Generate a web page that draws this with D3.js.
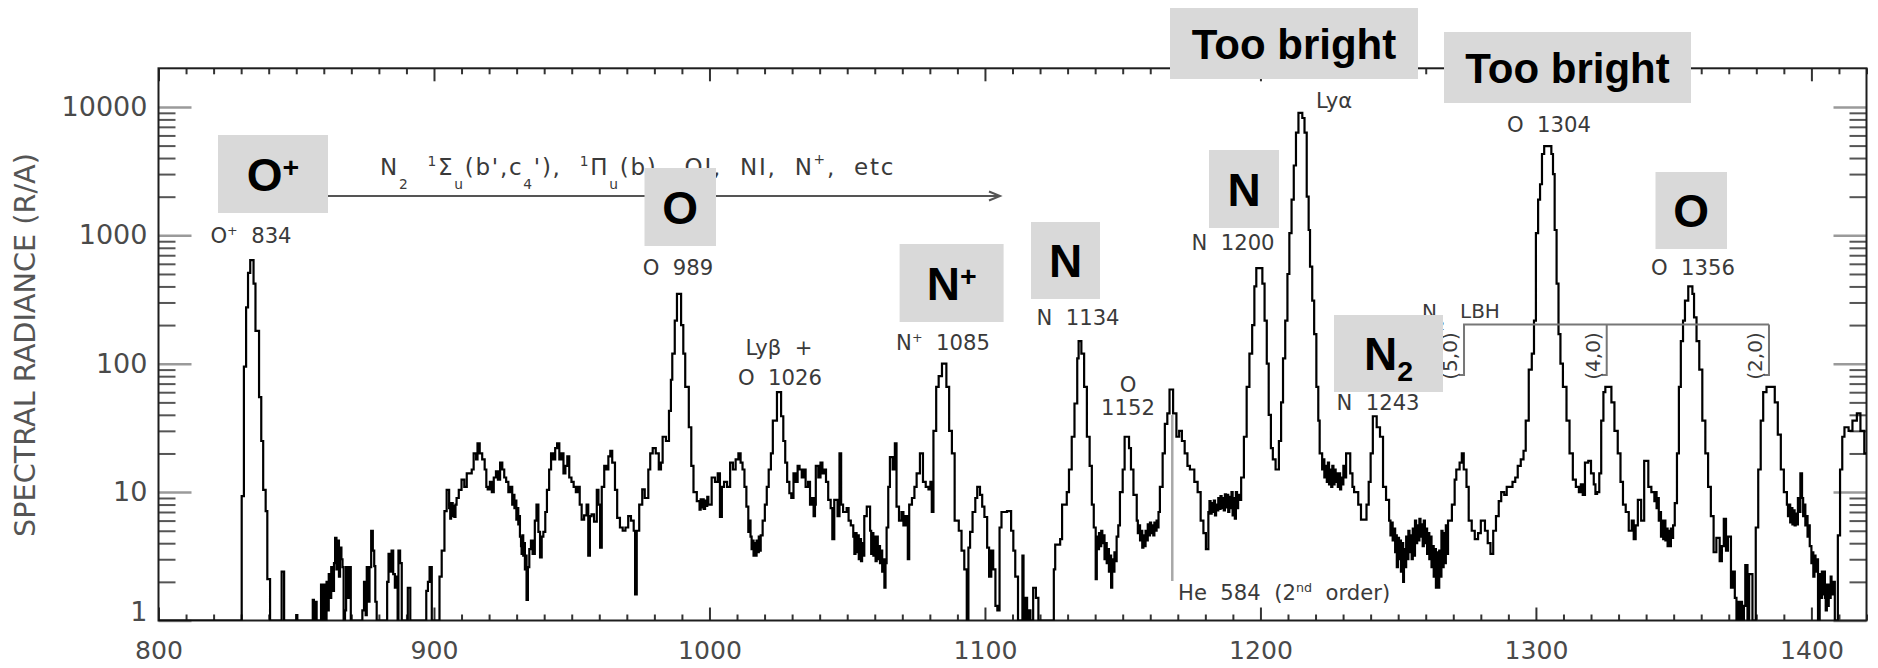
<!DOCTYPE html>
<html>
<head>
<script src="https://d3js.org/d3.v7.min.js"></script>
<style>
body { margin: 0; background: #fff; }
svg text { font-family: "DejaVu Sans", sans-serif; }
.tick text { fill: #4a4a4a; font-size: 26px; }
.xmaj line, .xmin line { stroke: #333; stroke-width: 2; }
.ymaj line { stroke: #9a9a9a; stroke-width: 2.5; }
.ymin line { stroke: #555; stroke-width: 2; }
.note { fill: #3a3a3a; white-space: pre; }
.big { font-family: "Liberation Sans", Arial, sans-serif; font-weight: bold; fill: #000; }
</style>
</head>
<body>
<script>
// axis ranges and tick labels
const xDomain = [800, 1420];
const yDomain = [1, 20000];
const xMajor = [800, 900, 1000, 1100, 1200, 1300, 1400];
const yMajor = [1, 10, 100, 1000, 10000];
const yMajorLabels = ["1", "10", "100", "1000", "10000"];

// spectrum: [wavelength where the step starts (A), radiance (R/A)]
// values under 1 sit on the bottom axis
const spectrum = [
  [800, 0.5],
  [830.2, 9.3], [831.0, 95], [831.8, 275], [832.5, 510], [833.3, 640], [834.5, 420], [835.2, 180], [836.5, 55], [837.3, 25], [838.0, 10.4], [838.9, 7.1], [839.5, 2.1], [840.5, 0.5],
  [844.7, 2.4], [845.6, 0.5], [850.0, 1.1], [850.4, 0.5],
  [856.0, 1.45], [856.4, 0.5], [857.0, 1.4], [857.4, 0.5], [859.0, 1.9], [859.5, 0.5], [860.0, 1.9], [860.5, 0.5],
  [861.0, 2.0], [861.4, 1.2], [861.8, 2.3], [862.3, 1.5], [862.7, 2.6], [863.2, 1.7], [863.7, 2.8], [864.1, 4.4], [864.6, 2.5], [865.0, 4.2], [865.5, 2.2], [865.9, 3.7], [866.4, 3.0], [866.8, 2.6], [867.2, 0.5], [867.7, 1.2], [868.1, 2.6], [868.7, 1.5], [869.2, 2.6], [869.8, 0.5],
  [874.0, 1.2], [874.6, 2.0], [875.2, 1.1], [875.6, 2.6], [876.2, 1.4], [876.6, 2.6], [877.2, 5.0], [877.8, 3.5], [878.3, 2.65], [878.7, 1.4], [879.2, 0.5],
  [883.0, 2.0], [883.5, 3.3], [884.1, 2.4], [884.6, 3.5], [885.2, 2.3], [885.8, 1.8], [886.3, 2.2], [886.8, 0.5], [887.1, 3.5], [887.7, 2.8], [888.3, 0.5],
  [890.5, 1.8], [891.4, 0.5], [897.2, 1.7], [897.8, 2.0], [898.4, 2.6], [899.2, 0.5],
  [902.0, 2.2], [902.8, 3.5], [903.8, 7.1], [904.6, 10.4], [905.5, 7.5], [905.9, 6.2], [906.2, 8.2], [906.8, 6.5], [907.1, 7.8], [907.4, 6.4], [907.8, 8], [908.2, 9], [909.0, 10.4], [910.0, 12.5], [911.0, 11], [911.9, 14], [913.7, 15], [914.4, 20], [915.3, 18], [915.8, 24], [916.6, 20], [917.5, 18], [918.4, 15], [919.0, 11], [919.5, 10.5], [920.3, 12], [921.0, 10], [921.7, 13], [922.5, 14.5], [923.2, 12.5], [924.0, 17], [924.8, 15], [925.5, 13], [926.2, 12], [927.0, 10], [927.7, 11], [928.4, 8], [928.8, 9.5], [929.2, 7.5], [929.6, 8.6], [929.9, 6.1], [930.3, 7.5], [930.6, 5.6], [931.0, 6.5], [931.2, 4.5], [931.6, 3.8], [931.8, 3.3], [932.1, 4.6], [932.4, 3.2], [932.7, 4.0], [933.0, 2.5], [933.3, 3.2], [933.6, 1.45], [934.1, 2.6], [934.6, 3.6], [935.2, 4.2], [935.8, 3.3], [936.6, 6], [937.2, 8], [937.9, 4.9], [938.5, 3.1], [939.1, 4.5], [939.7, 4.9], [940.4, 7],
  [941.0, 10.4], [941.8, 15], [942.5, 20], [943.3, 18], [944.0, 22], [944.7, 24], [945.5, 18], [946.3, 20], [947.0, 14], [947.7, 16], [948.4, 19], [949.1, 13], [949.9, 12], [950.7, 11], [951.5, 10], [952.2, 11], [952.9, 8], [953.6, 6.1], [954.5, 6.6], [955.4, 8], [956.0, 3.2], [956.6, 6.5], [957.2, 6.7], [958.1, 5.9], [959.1, 10.4], [959.7, 8], [960.3, 3.7], [960.9, 11], [961.8, 16], [962.6, 15], [963.3, 19], [964.0, 21], [964.7, 17], [965.7, 10.4], [966.5, 6.3], [967.5, 5.3], [968.5, 5.0], [969.5, 5.3], [970.5, 6.5], [971.5, 6], [972.5, 5], [973.0, 1.6], [973.6, 5], [974.5, 8], [975.6, 10.5], [976.5, 9], [977.8, 15], [978.5, 20], [979.4, 22], [980.5, 20], [981.6, 15], [982.4, 17], [983.0, 27], [984.2, 25], [985.3, 43], [986.0, 75], [986.5, 120], [987.4, 217], [988.2, 350], [989.7, 200], [990.5, 120], [991.2, 66], [992.5, 32], [993.4, 16], [994.2, 10], [995.4, 8.5], [996.4, 7.3], [996.8, 8.8], [997.2, 7.6], [997.6, 8.8], [997.9, 7.4], [998.4, 8.6], [998.8, 7.8], [999.2, 9.2], [999.6, 8],
  [1000.8, 13], [1002.0, 12], [1003.0, 14], [1003.8, 6.4], [1004.5, 11], [1005.3, 12], [1006.4, 11], [1007.5, 17], [1008.5, 15], [1009.5, 18], [1010.5, 20], [1011.3, 17], [1012.0, 15], [1012.7, 11], [1013.4, 7.7], [1014.1, 4.9], [1014.5, 6], [1014.9, 4.5], [1015.3, 3.6], [1015.6, 4.2], [1016.0, 3.2], [1016.4, 4.0], [1016.8, 3.2], [1017.1, 4.2], [1017.5, 3.4], [1017.9, 4.5], [1018.3, 3.5], [1018.6, 4.6], [1019.3, 6], [1020.1, 8], [1020.8, 11], [1021.5, 15], [1022.3, 20], [1023.0, 36], [1024.5, 60], [1026.0, 39], [1026.8, 25], [1027.5, 17], [1028.2, 12], [1029.0, 9.8], [1029.7, 9], [1030.5, 14], [1031.3, 12], [1032.0, 16], [1032.7, 15], [1033.5, 13], [1034.2, 15], [1034.9, 11], [1035.8, 12], [1036.5, 8], [1037.1, 9], [1037.8, 6.5], [1038.3, 8], [1038.6, 16], [1039.5, 13], [1040.3, 17], [1041.0, 14], [1041.6, 15], [1042.3, 12], [1043.1, 8.7], [1044.0, 7.5], [1044.6, 4.3], [1045.3, 8.7], [1046.5, 6.5], [1047.2, 20], [1047.8, 8], [1048.5, 7], [1049.8, 7.5],
  [1050.5, 6], [1051.3, 5.5], [1052.2, 4.5], [1052.6, 3.3], [1053.0, 4.8], [1053.4, 3.4], [1053.8, 4.6], [1054.2, 3], [1054.6, 4.3], [1055.0, 2.9], [1055.4, 4.0], [1055.8, 3.2], [1056.2, 6.5], [1057.1, 7.7], [1058.3, 5], [1058.7, 3.3], [1059.1, 4.8], [1059.5, 3.2], [1059.9, 4.5], [1060.3, 2.9], [1060.7, 4.5], [1061.1, 3.0], [1061.5, 3.8], [1061.9, 2.8], [1062.3, 3.5], [1062.7, 2.4], [1063.1, 3.0], [1063.5, 1.8], [1063.9, 2.8], [1064.3, 5.3], [1064.9, 11], [1065.5, 18.7], [1066.5, 15], [1067.3, 24], [1067.9, 7.7], [1068.8, 6], [1069.7, 7], [1070.4, 5.5], [1071.2, 6.5], [1072.0, 3], [1072.5, 8], [1073.5, 9], [1074.4, 11], [1075.2, 14], [1076.4, 20], [1077.5, 12], [1078.5, 11], [1079.5, 10.5], [1080.2, 12], [1080.7, 7], [1081.3, 30], [1082.3, 66], [1083.2, 80], [1084.4, 100], [1086.0, 66], [1087.0, 30], [1088.0, 20], [1089.0, 6], [1090.5, 5], [1091.5, 3.5], [1092.5, 2.5], [1093.4, 0.5], [1094.0, 3.7], [1094.6, 4.9], [1095.5, 7], [1096.5, 9], [1097.2, 11], [1098.2, 9.5], [1099.0, 7.7], [1099.8, 6.4],
  [1100.8, 3.7], [1101.5, 2.2], [1102.3, 3.5], [1103.0, 2.5], [1103.8, 1.3], [1104.5, 1.2], [1105.3, 5.3], [1106.0, 7], [1108.0, 7.1], [1109.5, 5], [1110.3, 3.5], [1111.0, 2.2], [1112.0, 0.5], [1113.6, 3.2], [1114.0, 0.5], [1114.8, 1.5], [1115.3, 0.5], [1116.0, 1.2], [1116.5, 0.5], [1117.5, 1.8], [1118.5, 1.5], [1119.4, 0.5],
  [1125.0, 2.5], [1125.5, 3.9], [1127.3, 4.3], [1128.0, 8], [1129.7, 10], [1130.5, 15], [1131.5, 27], [1132.5, 49], [1133.5, 110], [1134.0, 150], [1135.0, 120], [1136.0, 66], [1137.0, 27], [1138.0, 16], [1138.8, 8], [1139.5, 5.3], [1140.2, 2.1], [1140.6, 4.5], [1141.0, 3.6], [1141.4, 4.8], [1141.8, 3.8], [1142.2, 5], [1142.6, 4.0], [1143.0, 4.6], [1143.4, 3.0], [1143.8, 4.0], [1144.2, 2.8], [1144.6, 3.6], [1145.0, 2.4], [1145.4, 3.2], [1145.8, 1.8], [1146.2, 3], [1146.6, 2.4], [1147.0, 3.4], [1147.4, 2.9], [1147.8, 4.5], [1148.4, 5.5], [1149.0, 10],
  [1150.0, 15], [1150.7, 27], [1152.3, 22], [1153.0, 15], [1153.9, 9.5], [1155.1, 6], [1155.5, 4.8], [1155.9, 5.5], [1156.3, 4.2], [1156.7, 5.0], [1157.1, 3.7], [1157.5, 4.6], [1157.9, 3.8], [1158.3, 5], [1158.7, 4.2], [1159.1, 5.6], [1159.5, 4.6], [1159.9, 5.8], [1160.3, 4.8], [1160.7, 5.5], [1161.1, 4.6], [1161.5, 5.8], [1161.9, 5], [1162.3, 6], [1162.7, 5.3], [1163.0, 7], [1163.5, 11], [1164.5, 20], [1165.3, 34], [1166.2, 41], [1167.0, 63], [1168.3, 41], [1169.5, 27], [1170.5, 30], [1171.5, 25], [1172.5, 20], [1173.5, 16], [1174.4, 15], [1176.0, 12], [1177.2, 10], [1178.3, 6], [1179.3, 4.8], [1180.2, 3.6],
  [1181.1, 7], [1181.5, 8.5], [1181.9, 6.8], [1182.3, 8.2], [1182.7, 7], [1183.1, 8.6], [1183.5, 6.6], [1183.9, 8], [1184.3, 7.2], [1184.7, 9], [1185.1, 7.4], [1185.5, 9.3], [1185.9, 7.5], [1186.3, 9], [1186.7, 7.2], [1187.1, 9.6], [1187.5, 7.6], [1187.9, 9.5], [1188.3, 7], [1188.7, 9.2], [1189.1, 7.5], [1189.5, 10], [1189.9, 6.6], [1190.3, 9], [1190.7, 6.2], [1191.1, 10], [1191.5, 7.5], [1191.9, 9.5], [1192.3, 8.7],
  [1193.0, 13], [1194.0, 27], [1195.0, 66], [1196.0, 120], [1197.0, 200], [1197.8, 400], [1198.5, 556],
  [1200.7, 420], [1201.5, 217], [1202.3, 100], [1203.0, 40], [1203.8, 22], [1204.5, 18], [1205.5, 15], [1206.7, 25], [1207.5, 50], [1208.2, 110], [1209.0, 217], [1209.8, 500], [1210.5, 1040], [1211.3, 1900], [1212.1, 3500], [1212.9, 6300], [1213.8, 9000], [1215.2, 8200], [1216.0, 6300], [1216.8, 2000], [1217.5, 1100], [1218.0, 570], [1218.8, 310], [1219.5, 170], [1220.3, 66], [1221.0, 36],
  [1221.5, 20], [1222.4, 15], [1222.8, 18], [1223.2, 13], [1223.7, 16], [1224.1, 12], [1224.5, 17], [1224.9, 11.5], [1225.3, 15], [1225.7, 11], [1226.1, 16], [1226.5, 11.5], [1226.9, 15], [1227.3, 12], [1227.7, 14], [1228.1, 11], [1228.5, 14], [1228.9, 10.5], [1229.3, 13], [1229.7, 11.5], [1230.1, 16], [1230.5, 13], [1231.1, 20], [1232.6, 14], [1233.4, 11], [1234.0, 10], [1235.5, 8], [1236.5, 6.1], [1238.5, 8], [1239.3, 12], [1240.0, 20], [1240.8, 39], [1242.2, 32], [1243.4, 27], [1244.5, 11], [1245.6, 8.7],
  [1246.7, 6], [1247.2, 4.6], [1247.6, 5.8], [1248.0, 4.2], [1248.4, 5.2], [1248.9, 3.4], [1249.2, 4.6], [1249.5, 2.6], [1249.9, 4.4], [1250.3, 3], [1250.7, 4.2], [1251.0, 2.4], [1251.4, 4], [1251.8, 2.0], [1252.1, 3.6], [1252.5, 2.6], [1252.9, 4.5], [1253.3, 3.0], [1253.7, 5], [1254.1, 3.4], [1254.5, 4.6], [1254.9, 3.0], [1255.3, 5.2], [1255.7, 3.2], [1256.1, 6], [1256.5, 4.0], [1256.9, 5.5], [1257.3, 4.2], [1257.7, 6.2], [1258.1, 4.5], [1258.5, 5.6], [1258.9, 3.8], [1259.3, 6], [1259.7, 4.0], [1260.1, 5.2], [1260.5, 3.3], [1260.9, 4.8], [1261.3, 3.0], [1261.7, 4.5], [1262.1, 2.6], [1262.5, 3.8], [1262.9, 2.2], [1263.3, 3.6], [1263.7, 1.8], [1264.1, 3.4], [1264.5, 1.8], [1264.9, 3.5], [1265.3, 2.2], [1265.7, 5], [1266.1, 2.6], [1266.5, 4.8], [1266.9, 2.8], [1267.3, 5.5], [1267.7, 3.3], [1268.1, 6],
  [1269.5, 8], [1270.5, 12.5], [1271.1, 15], [1272.3, 17], [1273.1, 20], [1273.8, 15], [1274.8, 11], [1275.6, 6], [1276.7, 5], [1277.8, 4.3], [1279.0, 4.8], [1280.0, 6], [1281.5, 5], [1282.5, 4], [1283.5, 3.3], [1284.5, 5], [1285.5, 6.5], [1286.5, 8.5], [1287.4, 10], [1288.5, 9.5], [1289.4, 11], [1290.4, 11], [1291.5, 12], [1292.5, 13], [1293.4, 16], [1294.5, 18], [1295.5, 21], [1296.3, 36], [1297.4, 90], [1298.5, 120], [1299.3, 217],
  [1300.0, 1040], [1300.8, 1900], [1301.5, 2500], [1302.2, 4300], [1303.0, 4960], [1305.6, 4300], [1306.2, 3000], [1306.8, 1100], [1307.5, 420], [1308.2, 170], [1308.9, 100], [1309.8, 66], [1311.1, 36], [1312.2, 20], [1313.4, 12.5], [1314.5, 11], [1315.6, 10], [1316.3, 11.5], [1317.0, 9.5], [1317.8, 17], [1319.0, 17.5], [1320.0, 14], [1321.0, 11.5], [1321.6, 9.7], [1322.2, 10], [1323.0, 14], [1323.7, 36], [1324.5, 60], [1325.2, 66], [1327.4, 50], [1328.5, 30], [1329.7, 20], [1330.7, 12], [1331.6, 8], [1332.6, 7], [1333.7, 5], [1334.8, 6], [1335.5, 4.3], [1336.2, 5.5], [1337.0, 8.7], [1338.2, 6], [1339.3, 17.5], [1340.8, 11], [1341.9, 10],
  [1343.0, 8.5], [1343.4, 10], [1343.8, 7.5], [1344.2, 9], [1344.6, 6], [1345.0, 7], [1345.4, 4.5], [1345.8, 6], [1346.2, 4.3], [1346.6, 6], [1347.0, 4.2], [1347.4, 5.2], [1347.8, 3.8], [1348.2, 5], [1348.6, 3.8], [1349.0, 5.2], [1349.4, 4.4], [1349.8, 5.5],
  [1350.4, 8.2], [1351.2, 20], [1351.9, 66], [1352.6, 150], [1353.4, 217], [1354.1, 310], [1355.3, 400], [1356.8, 350], [1357.4, 230], [1358.3, 150], [1359.3, 90], [1360.4, 36], [1361.5, 20], [1362.5, 11], [1363.5, 6.5], [1364.5, 3.4], [1365.5, 4.4], [1366.7, 2.9], [1367.5, 3.8], [1368.2, 6.2], [1369.0, 3.5], [1369.7, 4.5], [1370.8, 1.8], [1371.5, 2.4], [1372.2, 1.5], [1372.8, 0.5], [1373.2, 1.4], [1373.7, 0.5], [1374.1, 1.4], [1374.8, 1.0], [1375.5, 1.3], [1376.0, 2.7], [1376.8, 0.5], [1377.4, 2.3], [1378.6, 0.5], [1379.8, 5.3], [1380.7, 15], [1381.6, 36], [1382.5, 60], [1383.7, 66], [1386.7, 50], [1387.8, 28], [1388.9, 15], [1390.0, 10],
  [1391.1, 8], [1391.5, 6.5], [1391.9, 8], [1392.3, 5.8], [1392.7, 7.5], [1393.1, 5.6], [1393.5, 7.2], [1393.9, 5.5], [1394.3, 6.8], [1394.7, 5.6], [1395.1, 9], [1395.6, 7], [1396.0, 14], [1396.6, 9], [1397.0, 6.5], [1397.4, 8], [1397.8, 5.5], [1398.2, 6.5], [1398.6, 4.5], [1399.0, 5.5], [1399.4, 3.8],
  [1400.0, 2.8], [1400.4, 3.4], [1400.7, 2.2], [1401.1, 3.2], [1401.5, 2.4], [1401.9, 3], [1402.4, 0.5], [1403.0, 2.3], [1403.4, 1.5], [1403.8, 2.4], [1404.2, 1.6], [1404.5, 2.4], [1404.9, 1.5], [1405.2, 1.2], [1405.6, 1.9], [1405.9, 1.3], [1406.3, 1.9], [1406.6, 1.5], [1407.0, 2.2], [1407.3, 1.6], [1407.7, 2], [1408.5, 0.5], [1409.6, 4.6], [1410.4, 15], [1411.2, 27], [1412.0, 32], [1413.5, 30], [1414.9, 36], [1416.5, 41], [1417.8, 30], [1419.2, 20], [1420, 20]
];

var width = 1878,
    height = 668;

var svg = d3.select("body").append("svg")
    .attr("width", width)
    .attr("height", height);

var x = d3.scaleLinear().domain(xDomain).range([158.5, 1866.5]);
var y = d3.scaleLog().domain(yDomain).range([620.5, 68.3]).clamp(true);

var x0 = x(xDomain[0]), x1 = x(xDomain[1]), yb = y(yDomain[0]), yt = y(yDomain[1]);

// scale a text's font so its drawn width matches the reference
function fitSize(sel, base, target) {
  sel.style("font-size", base + "px");
  var w = sel.node().getComputedTextLength();
  return base * target / w;
}

// minor ticks
var xMinor = d3.range(xDomain[0], xDomain[1] + 1, 10).filter(d => d % 100 !== 0);
var yMinor = [];
yMajor.forEach(d => { for (var k = 2; k <= 9; k++) if (k * d < yDomain[1]) yMinor.push(k * d); });

function noDomain(g) { g.select(".domain").remove(); }

// bottom
svg.append("g").attr("class", "xmin").attr("transform", "translate(0," + yb + ")")
    .call(d3.axisBottom(x).tickValues(xMinor).tickSize(-6).tickFormat("")).call(noDomain);
var xb = svg.append("g").attr("class", "xmaj").attr("transform", "translate(0," + yb + ")")
    .call(d3.axisBottom(x).tickValues(xMajor).tickSize(-13).tickPadding(21).tickFormat(d3.format("d"))).call(noDomain);
var xfs = fitSize(xb.selectAll(".tick text").filter(d => d === 1000), 26, 64);
xb.selectAll(".tick text").style("font-size", xfs + "px");
// top
svg.append("g").attr("class", "xmin").attr("transform", "translate(0," + yt + ")")
    .call(d3.axisTop(x).tickValues(xMinor).tickSize(-6).tickFormat("")).call(noDomain);
svg.append("g").attr("class", "xmaj").attr("transform", "translate(0," + yt + ")")
    .call(d3.axisTop(x).tickValues(xMajor).tickSize(-13).tickFormat("")).call(noDomain);
// left
svg.append("g").attr("class", "ymin").attr("transform", "translate(" + x0 + ",0)")
    .call(d3.axisLeft(y).tickValues(yMinor).tickSize(-17).tickFormat("")).call(noDomain);
var yl = svg.append("g").attr("class", "ymaj").attr("transform", "translate(" + x0 + ",0)")
    .call(d3.axisLeft(y).tickValues(yMajor).tickSize(-33).tickPadding(11).tickFormat((d, i) => yMajorLabels[i])).call(noDomain);
var yfs = fitSize(yl.selectAll(".tick text").filter(d => d === 10000), 26, 86);
yl.selectAll(".tick text").style("font-size", yfs + "px");
yl.selectAll(".tick text").filter(d => d === 1).attr("dy", "0em");
// right
svg.append("g").attr("class", "ymin").attr("transform", "translate(" + x1 + ",0)")
    .call(d3.axisRight(y).tickValues(yMinor).tickSize(-17).tickFormat("")).call(noDomain);
svg.append("g").attr("class", "ymaj").attr("transform", "translate(" + x1 + ",0)")
    .call(d3.axisRight(y).tickValues(yMajor).tickSize(-33).tickFormat("")).call(noDomain);

svg.append("rect")
    .attr("x", x0).attr("y", yt).attr("width", x1 - x0).attr("height", yb - yt)
    .attr("fill", "none").attr("stroke", "#1e1e1e").attr("stroke-width", 2);

var title = svg.append("text")
    .attr("transform", "translate(35,345) rotate(-90)")
    .attr("text-anchor", "middle")
    .style("fill", "#555")
    .text("SPECTRAL RADIANCE (R/A)");
title.style("font-size", fitSize(title, 28, 384) + "px");

// He 584 second order marker
svg.append("line")
    .attr("x1", x(1168)).attr("x2", x(1168)).attr("y1", 415).attr("y2", 581)
    .attr("stroke", "#a8a8a8").attr("stroke-width", 2.5);

// spectrum
svg.append("clipPath").attr("id", "plot").append("rect")
    .attr("x", x0).attr("y", yt).attr("width", x1 - x0).attr("height", yb - yt);

var line = d3.line()
    .x(d => x(d[0]))
    .y(d => y(d[1]))
    .curve(d3.curveStepAfter);

svg.append("path")
    .datum(spectrum)
    .attr("clip-path", "url(#plot)")
    .attr("fill", "none")
    .attr("stroke", "#000")
    .attr("stroke-width", 2.2)
    .attr("d", line);

// note size, matched on the "O 1304" label
var probe = svg.append("text").attr("class", "note").text("O  1304");
var nfs = fitSize(probe, 20, 84);
probe.remove();

// text with sub/superscripts
function rich(sel, parts, fs) {
  var off = 0;
  sel.style("font-size", fs + "px");
  parts.forEach(function(p) {
    var t = p[0], m = p[1];
    var target = m === "sub" ? 0.6 * fs : m === "sup" ? -0.38 * fs : m === "sup2" ? -0.5 * fs : 0;
    sel.append("tspan")
        .attr("dy", target - off)
        .style("font-size", m ? (0.6 * fs) + "px" : null)
        .text(t);
    off = target;
  });
}

// line labels
var notes = [
  { x: 251, y: 243, parts: [["O", ""], ["+", "sup"], ["  834", ""]] },
  { x: 678, y: 275, parts: [["O  989", ""]] },
  { x: 779, y: 355, parts: [["Lyβ  +", ""]] },
  { x: 780, y: 385, parts: [["O  1026", ""]] },
  { x: 943, y: 350, parts: [["N", ""], ["+", "sup"], ["  1085", ""]] },
  { x: 1078, y: 325, parts: [["N  1134", ""]] },
  { x: 1128, y: 392, parts: [["O", ""]] },
  { x: 1128, y: 415, parts: [["1152", ""]] },
  { x: 1233, y: 250, parts: [["N  1200", ""]] },
  { x: 1549, y: 132, parts: [["O  1304", ""]] },
  { x: 1693, y: 275, parts: [["O  1356", ""]] },
  { x: 1378, y: 410, parts: [["N  1243", ""]] }
];
notes.forEach(function(n) {
  var t = svg.append("text").attr("class", "note").attr("x", n.x).attr("y", n.y).attr("text-anchor", "middle");
  rich(t, n.parts, nfs);
});

svg.append("text").attr("class", "note").attr("x", 1316).attr("y", 108).style("font-size", nfs + "px").text("Lyα");

var he = svg.append("text").attr("class", "note").attr("x", 1178).attr("y", 600);
rich(he, [["He  584  (2", ""], ["nd", "sup"], ["  order)", ""]], nfs);

// N2 band systems with arrow
var band = svg.append("text").attr("class", "note").attr("x", 380).attr("y", 175);
rich(band, [["N", ""], ["2", "sub"], ["  ", ""], ["1", "sup"], ["Σ", ""], ["u", "sub"], ["(b',c", ""], ["4", "sub"],
            ["'),  ", ""], ["1", "sup"], ["Π", ""], ["u", "sub"], ["(b),  OI,  NI,  N", ""], ["+", "sup2"], [",  etc", ""]], 23);
var bandLen = band.node().getComputedTextLength();
var nChars = band.text().length;
band.style("letter-spacing", ((515 - bandLen) / nChars) + "px");

svg.append("line").attr("x1", 230).attr("x2", 1000).attr("y1", 196).attr("y2", 196)
    .attr("stroke", "#555").attr("stroke-width", 2);
svg.append("path").attr("d", "M989,191.5L1000,196L989,200.5")
    .attr("fill", "none").attr("stroke", "#555").attr("stroke-width", 2);

// N2 LBH bands
var lbh = [[1273.9, "(5,0)"], [1325.7, "(4,0)"], [1384.6, "(2,0)"]];
svg.append("line").attr("x1", x(1273.9) - 1).attr("x2", x(1384.6)).attr("y1", 324.5).attr("y2", 324.5)
    .attr("stroke", "#777").attr("stroke-width", 2);
lbh.forEach(function(b) {
  var bx = x(b[0]);
  svg.append("path").attr("d", "M" + bx + ",324.5V375H" + (bx - 5))
      .attr("fill", "none").attr("stroke", "#777").attr("stroke-width", 2);
  svg.append("text").attr("class", "note")
      .attr("transform", "translate(" + (bx - 7) + ",356) rotate(-90)")
      .attr("text-anchor", "middle")
      .style("font-size", "20px")
      .text(b[1]);
});
var lt = svg.append("text").attr("class", "note").attr("x", 1422).attr("y", 318);
rich(lt, [["N", ""], ["2", "sub"]], 20);
svg.append("text").attr("class", "note").attr("x", 1460).attr("y", 318).style("font-size", "20px").text("LBH");

// grey boxes
var boxes = [
  { x: 218, y: 135, w: 110, h: 78, fs: 46, parts: [["O", ""], ["+", "sup"]] },
  { x: 644.5, y: 168, w: 71.5, h: 78, fs: 46, parts: [["O", ""]] },
  { x: 899.6, y: 244, w: 104, h: 78, fs: 46, parts: [["N", ""], ["+", "sup"]] },
  { x: 1031, y: 222, w: 69, h: 77, fs: 46, parts: [["N", ""]] },
  { x: 1170, y: 8, w: 248, h: 71, fs: 42, parts: [["Too bright", ""]] },
  { x: 1209, y: 150, w: 70, h: 78, fs: 46, parts: [["N", ""]] },
  { x: 1444, y: 32, w: 247, h: 71, fs: 42, parts: [["Too bright", ""]] },
  { x: 1655.5, y: 172, w: 71.5, h: 77, fs: 46, parts: [["O", ""]] },
  { x: 1334, y: 315, w: 109, h: 77, fs: 46, parts: [["N", ""], ["2", "sub"]] }
];
boxes.forEach(function(b) {
  svg.append("rect").attr("x", b.x).attr("y", b.y).attr("width", b.w).attr("height", b.h).attr("fill", "#d9d9d9");
  var t = svg.append("text").attr("class", "big")
      .attr("x", b.x + b.w / 2).attr("y", b.y + b.h / 2 + 0.36 * b.fs)
      .attr("text-anchor", "middle").style("font-size", b.fs + "px");
  var off = 0;
  b.parts.forEach(function(p) {
    var target = p[1] === "sup" ? -0.3 * b.fs : p[1] === "sub" ? 0.24 * b.fs : 0;
    t.append("tspan").attr("dy", target - off)
        .style("font-size", p[1] ? (0.62 * b.fs) + "px" : null)
        .text(p[0]);
    off = target;
  });
});
</script>
</body>
</html>
